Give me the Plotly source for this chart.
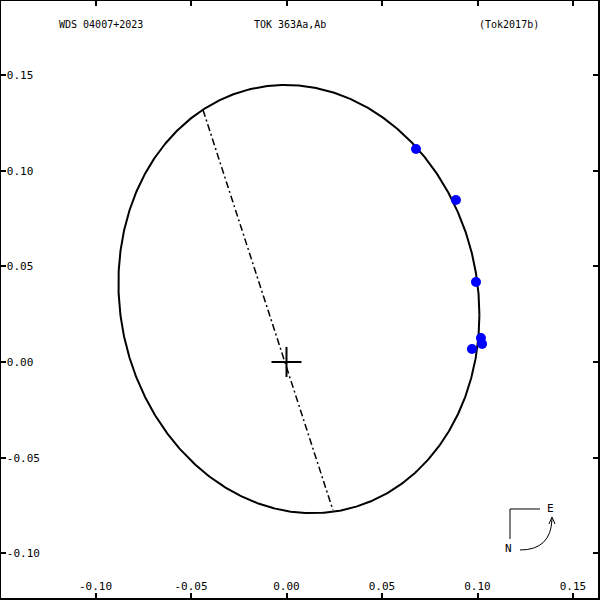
import numpy as np
import plotly.graph_objects as go

# ---- data ----
obs_x = [0.0678, 0.0887, 0.0992, 0.1018, 0.1024, 0.0971]
obs_y = [0.1113, 0.0847, 0.0418, 0.0125, 0.0094, 0.0068]

# apparent orbit (ellipse: centre + conjugate vectors)
orbit_cx, orbit_cy = 0.0065, 0.0329
orbit_w = 0.0945      # half-width in x
orbit_p = -0.0084     # y offset at the x-extreme
orbit_q = 0.1116      # y half-extent component

# line of nodes end points
nodes_x = [-0.0437, 0.0243]
nodes_y = [0.1317, -0.0774]

tick_vals = [-0.10, -0.05, 0.00, 0.05, 0.10, 0.15]
tick_text = ["-0.10", "-0.05", "0.00", "0.05", "0.10", "0.15"]

title_left = "WDS 04007+2023"
title_mid = "TOK 363Aa,Ab"
title_right = "(Tok2017b)"

# axis ranges
x_range = [-0.14948, 0.16309]
y_range = [-0.12337, 0.18871]

# pixel -> data helper for decorations
def px2d(px, py):
    return (px - 286.5) / 1910.0, (362.0 - py) / 1913.0

t = np.linspace(0, 2 * np.pi, 721)
ex = orbit_cx + orbit_w * np.cos(t)
ey = orbit_cy + orbit_p * np.cos(t) + orbit_q * np.sin(t)

FONT = "DejaVu Sans Mono"
fig = go.Figure()
fig.add_trace(go.Scatter(x=ex, y=ey, mode="lines",
                         line=dict(color="black", width=2), hoverinfo="skip"))
fig.add_trace(go.Scatter(x=nodes_x, y=nodes_y, mode="lines",
                         line=dict(color="black", width=1.5, dash="7px,3px,2px,3px")))
# primary cross
cx = 15 / 1910.0
cy = 15 / 1913.0
fig.add_trace(go.Scatter(x=[-cx, cx, None, 0, 0], y=[0, 0, None, -cy, cy], mode="lines",
                         line=dict(color="black", width=2)))
fig.add_trace(go.Scatter(x=obs_x, y=obs_y, mode="markers",
                         marker=dict(color="#0000ff", size=10, line=dict(width=0))))

shapes = []
# compass
a = px2d(510, 509); b = px2d(540, 509); c = px2d(510, 539)
shapes.append(dict(type="line", x0=a[0], y0=a[1], x1=b[0], y1=b[1], line=dict(color="black", width=1)))
shapes.append(dict(type="line", x0=a[0], y0=a[1], x1=c[0], y1=c[1], line=dict(color="black", width=1)))
p0 = px2d(520, 550); p1 = px2d(551, 550); p2 = px2d(552, 519)
shapes.append(dict(type="path",
                   path=f"M {p0[0]},{p0[1]} Q {p1[0]},{p1[1]} {p2[0]},{p2[1]}",
                   line=dict(color="black", width=1)))
h0 = px2d(549, 524); h1 = px2d(552, 517); h2 = px2d(555, 524)
shapes.append(dict(type="path",
                   path=f"M {h0[0]},{h0[1]} L {h1[0]},{h1[1]} L {h2[0]},{h2[1]}",
                   line=dict(color="black", width=1)))

annotations = []
for txt, px, py, fs in [(title_left, 101, 24, 10), (title_mid, 290, 24, 10), (title_right, 509, 24, 10),
                        ("E", 550, 509, 11), ("N", 508, 549, 11)]:
    xx, yy = px2d(px, py)
    annotations.append(dict(x=xx, y=yy, text=txt, showarrow=False,
                            font=dict(family=FONT, size=fs, color="black"),
                            xanchor="center", yanchor="middle"))

axis_common = dict(showgrid=False, zeroline=False, showline=True, linewidth=3,
                   linecolor="black", mirror="ticks", ticks="inside", ticklen=5,
                   tickwidth=1.5, tickcolor="black", tickvals=tick_vals, ticktext=tick_text,
                   ticklabelposition="inside", automargin=False,
                   tickfont=dict(family=FONT, size=11, color="black"))

fig.update_layout(
    width=600, height=600, showlegend=False,
    margin=dict(l=1, r=2, t=1, b=2, pad=0, autoexpand=False),
    plot_bgcolor="white", paper_bgcolor="white",
    xaxis=dict(range=x_range, **axis_common),
    yaxis=dict(range=y_range, **axis_common),
    shapes=shapes, annotations=annotations,
)
fig.write_html("out.html", config={"displayModeBar": False},
               post_script="document.body.style.margin='0px';document.body.style.overflow='hidden';")
